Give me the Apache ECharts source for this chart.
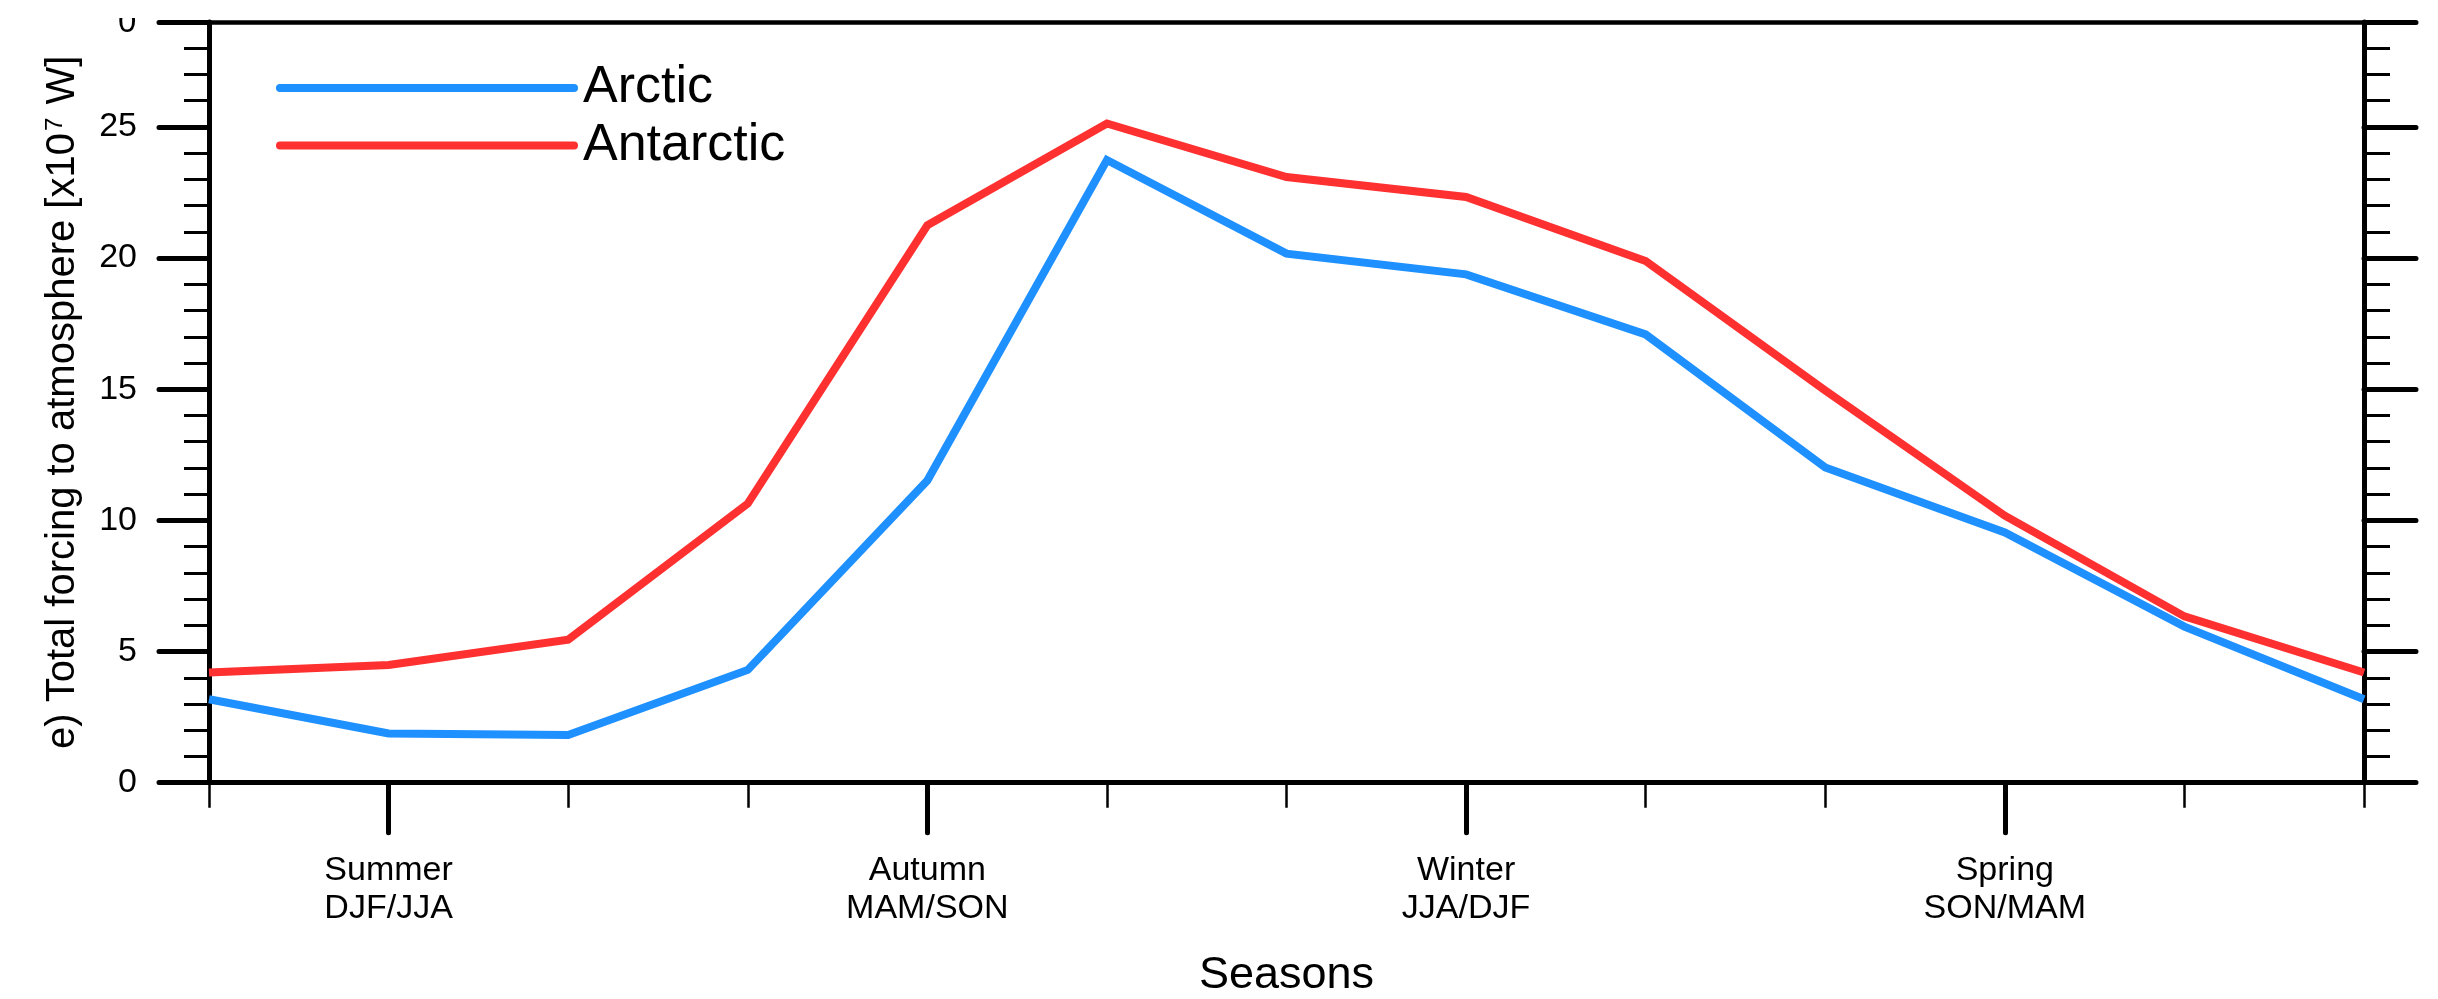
<!DOCTYPE html>
<html>
<head>
<meta charset="utf-8">
<script src="https://cdn.jsdelivr.net/npm/echarts@6/dist/echarts.min.js"></script>
<style>
  html, body { margin: 0; padding: 0; background: #fff; }
  #chart { width: 2438px; height: 999px; }
</style>
</head>
<body>
<div id="chart"></div>
<script>
// ---- data ----
const categories = ['Dec', 'Jan', 'Feb', 'Mar', 'Apr', 'May', 'Jun', 'Jul', 'Aug', 'Sep', 'Oct', 'Nov', 'Dec'];
const seasonTickIndex = [1, 4, 7, 10];
const seasonLabels = ['Summer\nDJF/JJA', 'Autumn\nMAM/SON', 'Winter\nJJA/DJF', 'Spring\nSON/MAM'];
const arctic = [3.18, 1.88, 1.82, 4.30, 11.52, 23.74, 20.17, 19.38, 17.09, 12.02, 9.54, 5.95, 3.18];
const antarctic = [4.20, 4.49, 5.45, 10.64, 21.25, 25.13, 23.09, 22.33, 19.89, 14.95, 10.18, 6.34, 4.20];
const yTickLabels = [0, 5, 10, 15, 20, 25];

const FONT = "'Liberation Sans', Arial, Helvetica, sans-serif";
const BLUE = '#1E90FF';
const RED = '#FF3030';

const chart = echarts.init(document.getElementById('chart'), null, { renderer: 'canvas' });

const isMajorX = (idx) => seasonTickIndex.indexOf(idx) >= 0;
const legendIcon = 'path://M4,0 L298,0 A4,4 0 0 1 298,8 L4,8 A4,4 0 0 1 4,0 Z';

const option = {
  backgroundColor: '#ffffff',
  animation: false,
  textStyle: { fontFamily: FONT, color: '#000' },
  grid: {
    left: 209, right: 74, top: 22, bottom: 216.3,
    containLabel: false, outerBoundsMode: 'none'
  },
  legend: {
    orient: 'vertical',
    left: 271, top: 57,
    padding: 5,
    itemWidth: 302, itemHeight: 8, itemGap: 5.5,
    icon: legendIcon,
    data: ['Arctic', 'Antarctic'],
    textStyle: { fontFamily: FONT, fontSize: 52, color: '#000', lineHeight: 52 }
  },
  xAxis: [
    {
      type: 'category', position: 'bottom', data: categories, boundaryGap: false,
      axisLine: { show: true, onZero: false, lineStyle: { color: '#000', width: 5 } },
      axisTick: { show: true, interval: 0, length: 25, lineStyle: { color: '#000', width: 2.5 } },
      axisLabel: { show: false },
      splitLine: { show: false },
      name: 'Seasons', nameLocation: 'middle', nameGap: 170,
      nameTextStyle: { fontFamily: FONT, fontSize: 45, color: '#000' }
    },
    {
      type: 'category', position: 'bottom', data: categories, boundaryGap: false,
      axisLine: { show: false, onZero: false },
      axisTick: { show: true, interval: (i) => isMajorX(i), length: 50, lineStyle: { color: '#000', width: 5, cap: 'round' } },
      axisLabel: {
        show: true, interval: (i) => isMajorX(i), margin: 69,
        fontFamily: FONT, fontSize: 34, lineHeight: 38, color: '#000', align: 'center',
        formatter: (v, i) => { const k = seasonTickIndex.indexOf(i); return k >= 0 ? seasonLabels[k] : ''; }
      },
      splitLine: { show: false }
    },
    {
      type: 'category', position: 'top', data: categories, boundaryGap: false,
      axisLine: { show: true, onZero: false, lineStyle: { color: '#000', width: 4.5 } },
      axisTick: { show: false }, axisLabel: { show: false }, splitLine: { show: false }
    }
  ],
  yAxis: [
    {
      type: 'value', position: 'left', min: 0, max: 29, interval: 1,
      axisLine: { show: true, onZero: false, lineStyle: { color: '#000', width: 5 } },
      axisTick: { show: true, length: 25, lineStyle: { color: '#000', width: 3 } },
      axisLabel: {
        show: true, margin: 72, fontFamily: FONT, fontSize: 34, color: '#000',
        formatter: (v) => yTickLabels.indexOf(v) >= 0 ? String(v) : ''
      },
      splitLine: { show: false },
      name: 'e) Total forcing to atmosphere [x10{sup|7} W]',
      nameLocation: 'middle', nameGap: 126, nameRotate: 90,
      nameTextStyle: {
        fontFamily: FONT, fontSize: 40, color: '#000',
        rich: { sup: { fontFamily: FONT, fontSize: 24, color: '#000', verticalAlign: 'top', padding: [0, 2, 14, 2] } }
      }
    },
    {
      type: 'value', position: 'left', min: 0, max: 29, interval: 5,
      axisLine: { show: false, onZero: false },
      axisTick: { show: true, length: 50, lineStyle: { color: '#000', width: 5, cap: 'round' } },
      axisLabel: { show: false }, splitLine: { show: false }
    },
    {
      type: 'value', position: 'right', min: 0, max: 29, interval: 1,
      axisLine: { show: true, onZero: false, lineStyle: { color: '#000', width: 5 } },
      axisTick: { show: true, length: 26, lineStyle: { color: '#000', width: 3 } },
      axisLabel: { show: false }, splitLine: { show: false }
    },
    {
      type: 'value', position: 'right', min: 0, max: 29, interval: 5,
      axisLine: { show: false, onZero: false },
      axisTick: { show: true, length: 52, lineStyle: { color: '#000', width: 5, cap: 'round' } },
      axisLabel: { show: false }, splitLine: { show: false }
    }
  ],
  series: [
    {
      name: 'Arctic', type: 'line', xAxisIndex: 0, yAxisIndex: 0,
      data: arctic, symbol: 'none', smooth: false,
      lineStyle: { color: BLUE, width: 8, join: 'miter' }, itemStyle: { color: BLUE },
      z: 3
    },
    {
      name: 'Antarctic', type: 'line', xAxisIndex: 0, yAxisIndex: 0,
      data: antarctic, symbol: 'none', smooth: false,
      lineStyle: { color: RED, width: 8, join: 'miter' }, itemStyle: { color: RED },
      z: 3
    }
  ],
  graphic: [
    {
      type: 'text', left: 118, top: 6, z: 100,
      style: { text: '0', font: '33px ' + FONT, fill: '#000' }
    },
    {
      type: 'rect', left: 100, top: 0, z: 101,
      shape: { width: 50, height: 18 },
      style: { fill: '#fff' }
    }
  ]
};

chart.setOption(option);
</script>
</body>
</html>
